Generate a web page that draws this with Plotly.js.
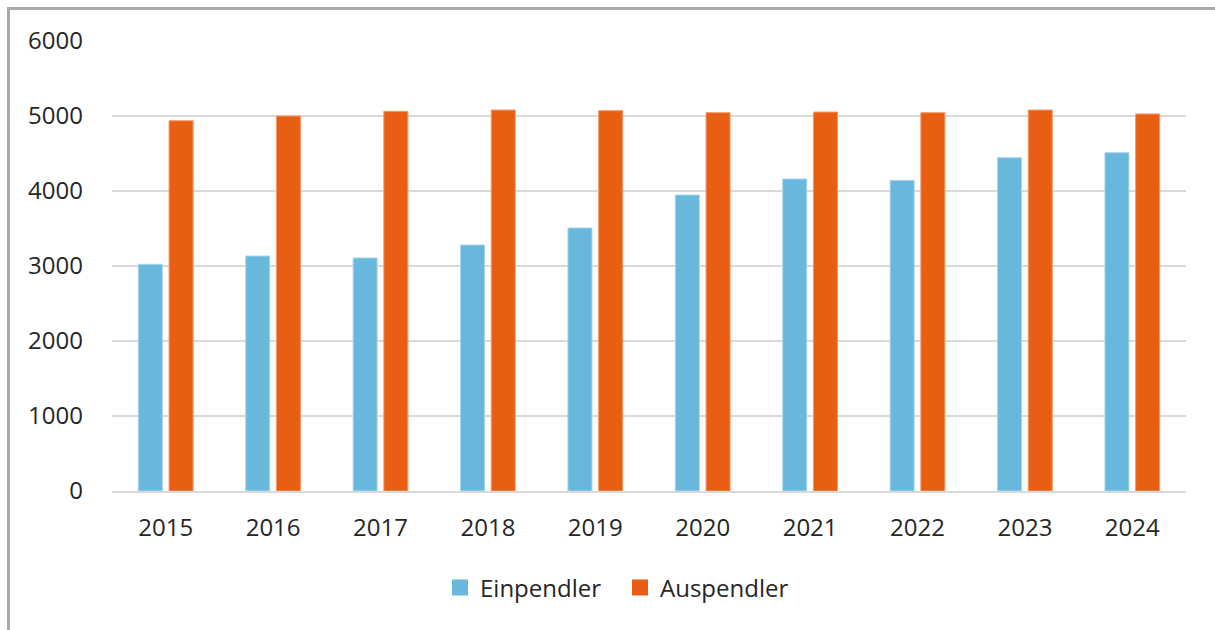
<!DOCTYPE html>
<html>
<head>
<meta charset="utf-8">
<script src="https://cdn.plot.ly/plotly-3.0.1.min.js"></script>
<style>
  html, body { margin: 0; padding: 0; background: #ffffff; }
  #wrap { position: relative; width: 1215px; height: 630px; overflow: hidden; }
  #chart { position: absolute; left: 0; top: 0; width: 1215px; height: 630px; }
  #frame { position: absolute; left: 7px; top: 7px; width: 1215px; height: 640px;
           border-top: 3px solid #ababab; border-left: 3px solid #ababab; pointer-events: none; }
</style>
</head>
<body>
<div id="wrap">
  <div id="chart"></div>
  <div id="frame"></div>
</div>
<script>
const years = ['2015','2016','2017','2018','2019','2020','2021','2022','2023','2024'];
const einpendler = [3023, 3133, 3107, 3280, 3507, 3947, 4160, 4142, 4444, 4511];
const auspendler = [4937, 5000, 5062, 5080, 5071, 5044, 5053, 5044, 5080, 5027];
const seriesNames = ['Einpendler', 'Auspendler'];
const yTicks = [0, 1000, 2000, 3000, 4000, 5000, 6000];

const blue = '#67B8DC';
const orange = '#E85E12';
const fontFam = '"Open Sans", "Noto Sans", sans-serif';

const traces = [
  { type: 'bar', x: years, y: einpendler, name: seriesNames[0], showlegend: false,
    marker: { color: blue, line: { color: '#a9d7ec', width: 1 } }, hoverinfo: 'x+y' },
  { type: 'bar', x: years, y: auspendler, name: seriesNames[1], showlegend: false,
    marker: { color: orange, line: { color: '#f39a66', width: 1 } }, hoverinfo: 'x+y' },
  { type: 'scatter', mode: 'markers', x: [null], y: [null], name: seriesNames[0],
    marker: { symbol: 'square', size: 16, color: blue } },
  { type: 'scatter', mode: 'markers', x: [null], y: [null], name: seriesNames[1],
    marker: { symbol: 'square', size: 16, color: orange } }
];

const layout = {
  width: 1215, height: 630,
  margin: { l: 112, r: 29, t: 41, b: 139, pad: 0 },
  paper_bgcolor: 'rgba(0,0,0,0)',
  plot_bgcolor: 'rgba(0,0,0,0)',
  font: { family: fontFam, size: 24, color: '#262626' },
  barmode: 'group',
  bargap: 0.428,
  bargroupgap: 0.218,
  xaxis: {
    type: 'category',
    showgrid: false, zeroline: false,
    showline: true, linecolor: '#d9d9d9', linewidth: 2,
    ticks: '', ticklabelstandoff: 14,
    tickfont: { family: fontFam, size: 24, color: '#262626' }
  },
  yaxis: {
    range: [0, 6000],
    tickvals: yTicks, ticktext: yTicks.map(String),
    showgrid: true, gridcolor: '#d9d9d9', gridwidth: 2,
    zeroline: false, showline: false, ticks: '',
    ticklabelstandoff: 28,
    tickfont: { family: fontFam, size: 24, color: '#262626' }
  },
  showlegend: true,
  legend: {
    orientation: 'h', xref: 'container', yref: 'container',
    x: 440 / 1215, xanchor: 'left', y: 0.067, yanchor: 'middle',
    font: { family: fontFam, size: 24, color: '#262626' },
    itemwidth: 30, entrywidth: 135, entrywidthmode: 'pixels',
    tracegroupgap: 0, bgcolor: 'rgba(0,0,0,0)'
  }
};

Plotly.newPlot('chart', traces, layout, { displayModeBar: false, staticPlot: true });
</script>
</body>
</html>
